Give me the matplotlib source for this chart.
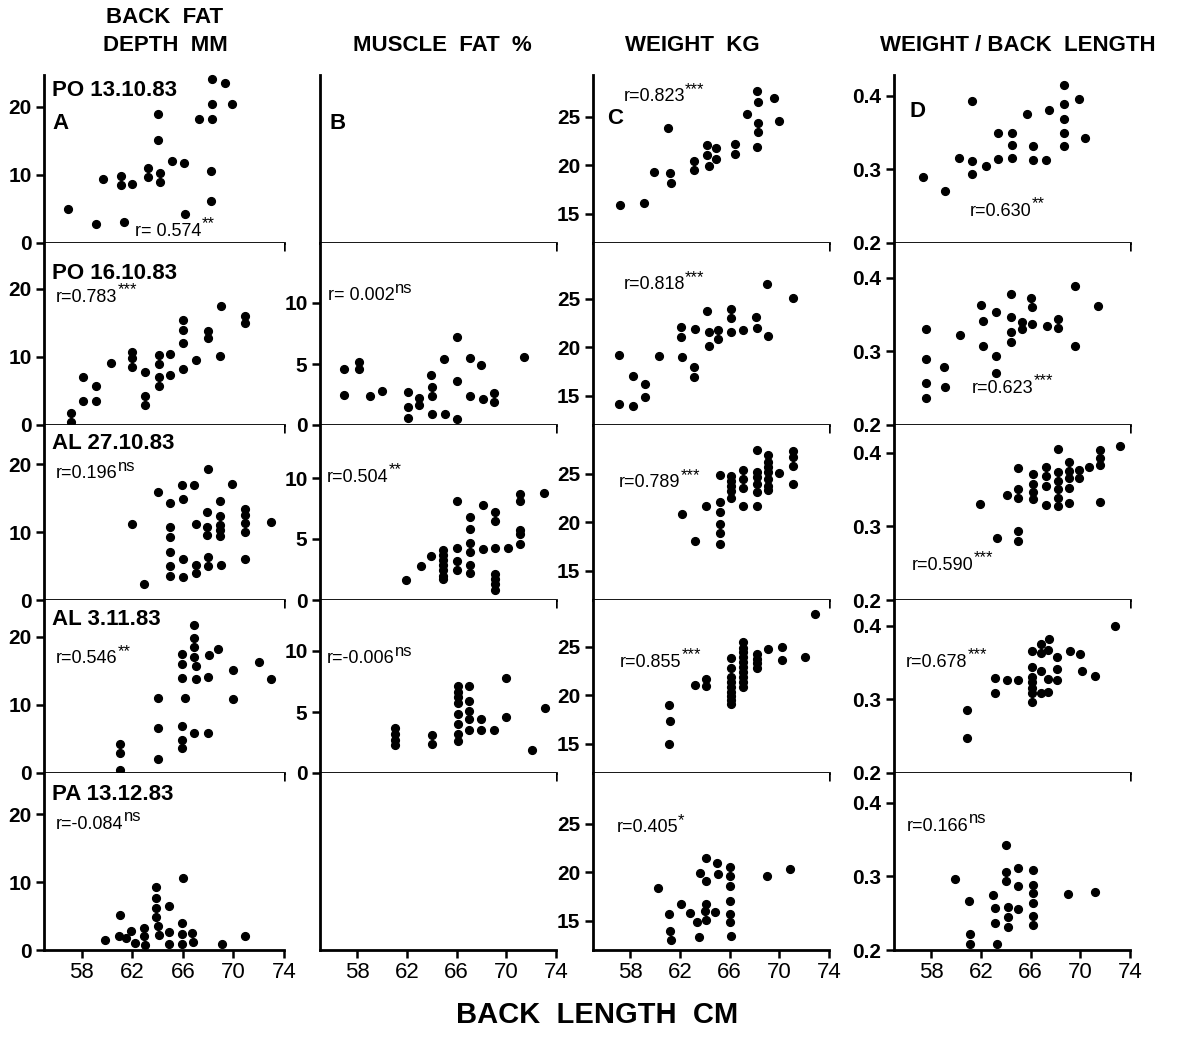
import matplotlib
matplotlib.use("Agg")
import matplotlib.pyplot as plt

plt.rcParams["font.family"] = ["Liberation Sans", "DejaVu Sans"]

# ---------------------------------------------------------------- data
# back length (cm) vs. four traits, five sampling dates (rows)
DATES = ["PO 13.10.83", "PO 16.10.83", "AL 27.10.83", "AL 3.11.83", "PA 13.12.83"]
HEADERS = ["BACK  FAT\nDEPTH  MM", "MUSCLE  FAT  %", "WEIGHT  KG", "WEIGHT / BACK  LENGTH"]
X_TICKS = [58, 62, 66, 70, 74]
Y_TICKS = [[0, 10, 20], [0, 5, 10], [15, 20, 25], [0.2, 0.3, 0.4]]
Y_TICKLABELS = [["0", "10", "20"], ["0", "5", "10"], ["15", "20", "25"], ["0.2", "0.3", "0.4"]]

# row 1 (PO 13.10.83)
A1_X = [56.9, 59.1, 59.7, 61.1, 61.1, 61.3, 62.0, 63.2, 63.2, 64.0, 64.0, 64.2, 64.2, 65.1,
        66.1, 66.2, 67.3, 68.3, 68.3, 68.3, 68.2, 68.2, 69.3, 69.9]
A1_Y = [5.0, 2.8, 9.4, 9.9, 8.5, 3.1, 8.7, 11.0, 9.7, 18.9, 15.1, 10.3, 8.9, 12.0,
        11.7, 4.3, 18.2, 24.1, 20.4, 18.3, 10.6, 6.2, 23.6, 20.4]
C1_X = [57.2, 59.1, 59.9, 61.0, 61.2, 61.3, 63.1, 63.1, 64.2, 64.2, 64.3, 64.9, 64.9, 66.4,
        66.4, 67.4, 68.2, 68.3, 68.3, 68.3, 68.2, 69.6, 70.0]
C1_Y = [15.9, 16.1, 19.3, 23.9, 19.2, 18.2, 20.5, 19.5, 22.1, 21.1, 19.9, 21.8, 20.7, 22.2,
        21.2, 25.3, 27.7, 26.5, 24.4, 23.4, 21.9, 26.9, 24.6]
D1_X = [57.3, 59.1, 60.2, 61.3, 61.3, 61.3, 62.4, 63.4, 63.4, 64.5, 64.5, 64.5, 65.7, 66.2,
        66.2, 67.2, 67.5, 68.7, 68.7, 68.7, 68.7, 68.7, 69.9, 70.4]
D1_Y = [0.290, 0.271, 0.316, 0.393, 0.311, 0.294, 0.305, 0.349, 0.314, 0.349, 0.333, 0.316,
        0.375, 0.332, 0.313, 0.313, 0.380, 0.414, 0.388, 0.368, 0.349, 0.331, 0.395, 0.342]

# row 2 (PO 16.10.83)
A2_X = [57.1, 57.1, 58.1, 58.1, 59.1, 59.1, 60.3, 62.0, 62.0, 62.0, 63.0, 63.0, 63.0, 64.1,
        64.1, 64.1, 64.1, 65.0, 65.0, 66.0, 66.0, 66.0, 66.0, 67.0, 68.0, 68.0, 68.9, 69.0,
        70.9, 70.9]
A2_Y = [1.7, 0.4, 7.0, 3.6, 5.8, 3.6, 9.1, 10.8, 9.9, 8.5, 7.8, 4.2, 2.9, 10.3,
        8.9, 7.1, 5.8, 10.4, 7.3, 15.4, 13.9, 12.0, 8.3, 9.6, 13.8, 12.8, 10.2, 17.5,
        15.0, 16.1]
B2_X = [56.9, 56.9, 58.1, 58.1, 59.0, 60.0, 62.1, 62.1, 62.1, 63.0, 63.0, 63.9, 64.0, 64.0,
        64.0, 65.0, 65.1, 66.0, 66.0, 66.0, 67.1, 67.1, 68.0, 68.1, 69.0, 69.0, 71.4]
B2_Y = [4.6, 2.5, 5.2, 4.6, 2.4, 2.8, 2.7, 1.5, 0.6, 2.2, 1.6, 4.1, 3.1, 2.4,
        0.9, 5.4, 0.9, 7.2, 3.6, 0.5, 5.5, 2.4, 4.9, 2.1, 2.6, 1.9, 5.6]
C2_X = [57.1, 57.1, 58.2, 58.2, 59.2, 59.2, 60.3, 62.1, 62.1, 62.2, 63.1, 63.1, 63.2, 64.2,
        64.3, 64.3, 65.1, 65.1, 66.1, 66.1, 66.1, 67.1, 68.1, 68.2, 69.0, 69.1, 71.1]
C2_Y = [19.2, 14.2, 17.1, 14.0, 16.2, 14.9, 19.1, 22.1, 21.1, 19.0, 18.0, 17.0, 21.9, 23.8,
        21.6, 20.1, 21.8, 20.9, 24.0, 23.0, 21.6, 21.8, 23.1, 22.0, 26.5, 21.2, 25.1]
D2_X = [57.6, 57.6, 57.6, 57.6, 59.0, 59.1, 60.3, 62.0, 62.2, 62.2, 63.2, 63.2, 63.2, 64.4,
        64.4, 64.4, 64.4, 65.3, 65.3, 66.0, 66.1, 66.1, 67.3, 68.2, 68.2, 69.6, 69.6, 71.4]
D2_Y = [0.330, 0.289, 0.257, 0.237, 0.279, 0.252, 0.322, 0.363, 0.341, 0.307, 0.353, 0.294,
        0.271, 0.378, 0.347, 0.326, 0.312, 0.340, 0.330, 0.372, 0.360, 0.337, 0.335, 0.344,
        0.331, 0.389, 0.307, 0.361]

# row 3 (AL 27.10.83)
A3_X = [62.0, 62.9, 64.0, 65.0, 65.0, 65.0, 65.0, 65.0, 65.0, 65.9, 66.0, 66.0, 66.0, 66.9,
        67.0, 67.0, 67.0, 68.0, 67.9, 67.9, 67.9, 68.0, 68.0, 68.9, 68.9, 68.9, 68.9, 68.9,
        69.0, 69.9, 70.9, 70.9, 70.9, 70.9, 70.9, 73.0]
A3_Y = [11.2, 2.3, 15.9, 14.3, 10.7, 9.3, 7.1, 5.0, 3.5, 16.9, 14.8, 6.0, 3.4, 16.9,
        11.2, 5.2, 4.0, 19.3, 12.9, 10.7, 9.5, 6.3, 5.0, 14.6, 12.3, 11.1, 10.3, 9.4,
        5.1, 17.0, 13.4, 12.5, 11.3, 10.0, 6.0, 11.5]
B3_X = [61.9, 63.1, 63.9, 64.9, 64.9, 64.9, 64.9, 64.9, 64.9, 64.9, 66.0, 66.0, 66.0, 66.0,
        67.1, 67.1, 67.1, 67.1, 67.1, 67.1, 68.1, 68.1, 69.1, 69.1, 69.1, 69.1, 69.1, 69.1,
        69.1, 70.1, 71.1, 71.1, 71.1, 71.1, 71.1, 73.0]
B3_Y = [1.6, 2.8, 3.6, 4.1, 3.7, 3.3, 2.9, 2.5, 2.0, 1.7, 8.1, 4.3, 3.2, 2.5,
        6.8, 5.8, 4.7, 3.9, 2.9, 2.2, 7.8, 4.2, 7.2, 6.5, 4.3, 2.1, 1.7, 1.3,
        0.8, 4.3, 8.7, 8.1, 5.7, 5.4, 4.6, 8.8]
C3_X = [62.2, 63.2, 64.1, 65.2, 65.2, 65.2, 65.2, 65.2, 65.2, 66.1, 66.1, 66.1, 66.1, 66.1,
        67.1, 67.1, 67.1, 67.1, 68.2, 68.2, 68.2, 68.2, 68.2, 68.2, 69.1, 69.1, 69.1, 69.1,
        69.1, 69.1, 69.1, 70.0, 71.1, 71.1, 71.1, 71.1]
C3_Y = [20.9, 18.1, 21.7, 24.9, 22.1, 21.1, 19.8, 18.9, 17.8, 24.8, 24.3, 23.8, 23.2, 22.5,
        25.4, 24.5, 23.5, 21.7, 27.5, 25.2, 24.7, 24.0, 23.1, 21.7, 26.9, 26.2, 25.7, 25.2,
        24.5, 23.8, 23.3, 25.1, 27.4, 26.7, 25.8, 24.0]
D3_X = [61.9, 63.3, 64.1, 65.0, 65.0, 65.0, 65.0, 65.0, 66.2, 66.2, 66.2, 66.2, 67.2, 67.2,
        67.2, 67.2, 68.2, 68.2, 68.2, 68.2, 68.2, 68.2, 69.1, 69.1, 69.1, 69.1, 69.1, 69.9,
        69.9, 70.7, 71.6, 71.6, 71.6, 71.6, 73.2]
D3_Y = [0.330, 0.284, 0.343, 0.379, 0.351, 0.339, 0.294, 0.280, 0.371, 0.358, 0.346, 0.337,
        0.381, 0.368, 0.355, 0.329, 0.405, 0.373, 0.361, 0.351, 0.338, 0.327, 0.387, 0.375,
        0.365, 0.352, 0.331, 0.376, 0.365, 0.381, 0.404, 0.393, 0.383, 0.333, 0.409]

# row 4 (AL 3.11.83)
A4_X = [61.0, 61.0, 61.0, 64.0, 64.0, 64.0, 65.9, 65.9, 65.9, 65.9, 65.9, 65.9, 66.2, 66.9,
        66.9, 66.9, 66.9, 67.0, 67.0, 66.9, 68.0, 68.0, 68.1, 68.8, 70.0, 70.0, 72.0, 73.0]
A4_Y = [4.2, 2.9, 0.4, 11.1, 6.6, 2.0, 17.5, 16.0, 13.9, 6.9, 4.8, 3.7, 11.1, 21.8,
        19.8, 18.5, 17.1, 15.8, 13.8, 5.9, 5.9, 14.1, 17.4, 18.2, 15.1, 10.9, 16.3, 13.8]
B4_X = [61.0, 61.0, 61.0, 61.0, 64.0, 64.0, 66.1, 66.1, 66.1, 66.1, 66.1, 66.1, 66.1, 66.1,
        67.0, 67.0, 67.0, 67.0, 67.0, 68.0, 68.0, 69.0, 70.0, 70.0, 72.1, 73.1]
B4_Y = [3.7, 3.2, 2.7, 2.3, 3.1, 2.4, 7.1, 6.6, 6.2, 5.7, 4.8, 4.0, 3.2, 2.6,
        7.1, 5.9, 5.1, 4.4, 3.5, 4.4, 3.5, 3.5, 7.8, 4.6, 1.9, 5.3]
C4_X = [61.1, 61.2, 61.1, 63.2, 64.1, 64.1, 66.1, 66.1, 66.1, 66.1, 66.1, 66.1, 66.1, 66.1,
        66.1, 67.1, 67.1, 67.1, 67.1, 67.1, 67.1, 67.1, 67.1, 67.1, 67.1, 68.2, 68.2, 68.2,
        68.2, 69.1, 70.2, 70.2, 72.1, 72.9]
C4_Y = [19.0, 17.4, 15.0, 21.1, 21.7, 21.0, 23.9, 22.8, 21.9, 21.4, 20.9, 20.4, 19.9, 19.5,
        19.1, 25.5, 24.9, 24.5, 24.0, 23.4, 22.9, 22.4, 21.9, 21.4, 20.9, 24.3, 23.8, 23.3,
        22.8, 24.8, 25.0, 23.7, 24.0, 28.4]
D4_X = [60.9, 60.9, 63.1, 63.1, 64.1, 65.0, 66.1, 66.1, 66.1, 66.1, 66.1, 66.1, 66.1, 66.8,
        66.8, 66.8, 66.8, 67.4, 67.4, 67.4, 67.5, 68.1, 68.1, 68.1, 69.2, 70.0, 70.1, 71.2,
        72.8]
D4_Y = [0.285, 0.247, 0.329, 0.309, 0.326, 0.326, 0.366, 0.344, 0.330, 0.323, 0.316, 0.309,
        0.297, 0.375, 0.363, 0.339, 0.309, 0.367, 0.327, 0.310, 0.382, 0.357, 0.341, 0.326,
        0.366, 0.361, 0.338, 0.332, 0.400]

# row 5 (PA 13.12.83)
A5_X = [59.8, 61.0, 60.9, 61.5, 61.9, 62.2, 62.9, 62.9, 63.0, 63.9, 63.9, 63.9, 63.9, 64.0,
        64.1, 64.9, 64.9, 64.9, 66.0, 65.9, 65.9, 65.9, 66.7, 66.8, 69.1, 70.9]
A5_Y = [1.5, 5.2, 2.0, 1.8, 2.8, 1.0, 3.3, 2.0, 0.7, 9.3, 7.6, 6.2, 4.9, 3.6,
        2.2, 6.5, 2.7, 0.9, 10.6, 3.9, 2.3, 0.9, 2.5, 1.2, 0.9, 2.0]
C5_X = [60.2, 61.1, 61.2, 61.3, 62.1, 62.8, 63.4, 63.5, 63.6, 64.1, 64.1, 64.1, 64.0, 64.1,
        64.8, 65.0, 65.1, 66.0, 66.0, 66.0, 66.0, 66.0, 66.0, 66.1, 69.0, 70.9]
C5_Y = [18.4, 15.7, 14.0, 13.0, 16.7, 15.8, 14.9, 13.3, 19.9, 19.1, 21.5, 16.7, 16.0, 15.1,
        15.9, 21.0, 19.8, 20.6, 19.6, 18.6, 17.1, 15.7, 14.9, 13.4, 19.6, 20.3]
D5_X = [59.9, 61.0, 61.1, 61.1, 63.0, 63.1, 63.1, 63.3, 64.0, 64.0, 64.0, 64.2, 64.2, 64.2,
        65.0, 65.0, 65.0, 66.2, 66.2, 66.2, 66.2, 66.2, 66.2, 69.0, 71.2]
D5_Y = [0.297, 0.266, 0.222, 0.208, 0.275, 0.257, 0.236, 0.208, 0.342, 0.306, 0.293, 0.259,
        0.245, 0.231, 0.311, 0.287, 0.256, 0.309, 0.288, 0.278, 0.264, 0.246, 0.234, 0.276,
        0.279]

# correlation coefficients and significance per panel (row, col)
R_VALUES = {
    (0, 0): ("r= 0.574", "**"), (0, 2): ("r=0.823", "***"), (0, 3): ("r=0.630", "**"),
    (1, 0): ("r=0.783", "***"), (1, 1): ("r= 0.002", "ns"), (1, 2): ("r=0.818", "***"),
    (1, 3): ("r=0.623", "***"),
    (2, 0): ("r=0.196", "ns"), (2, 1): ("r=0.504", "**"), (2, 2): ("r=0.789", "***"),
    (2, 3): ("r=0.590", "***"),
    (3, 0): ("r=0.546", "**"), (3, 1): ("r=-0.006", "ns"), (3, 2): ("r=0.855", "***"),
    (3, 3): ("r=0.678", "***"),
    (4, 0): ("r=-0.084", "ns"), (4, 2): ("r=0.405", "*"), (4, 3): ("r=0.166", "ns"),
}

PANELS = {
    (0, 0): (A1_X, A1_Y), (0, 2): (C1_X, C1_Y), (0, 3): (D1_X, D1_Y),
    (1, 0): (A2_X, A2_Y), (1, 1): (B2_X, B2_Y), (1, 2): (C2_X, C2_Y), (1, 3): (D2_X, D2_Y),
    (2, 0): (A3_X, A3_Y), (2, 1): (B3_X, B3_Y), (2, 2): (C3_X, C3_Y), (2, 3): (D3_X, D3_Y),
    (3, 0): (A4_X, A4_Y), (3, 1): (B4_X, B4_Y), (3, 2): (C4_X, C4_Y), (3, 3): (D4_X, D4_Y),
    (4, 0): (A5_X, A5_Y), (4, 2): (C5_X, C5_Y), (4, 3): (D5_X, D5_Y),
}

# ---------------------------------------------------------------- layout
W, H = 1189, 1042
COLS = [(44, 284), (320, 556), (593, 829), (894, 1130)]        # px, left/right
ROWS = [(75, 243), (243, 425), (425, 600), (600, 773), (773, 950)]  # px, top/bottom
Y_MIN = [0, 0, 12, 0.2]
PX_PER_UNIT = [6.8, 12.2, 9.7, 737.0]   # keeps the same y-scale down each column

# annotation positions in axes fraction
R_POS = {
    (0, 0): (0.38, 0.07), (0, 2): (0.13, 0.87), (0, 3): (0.32, 0.19),
    (1, 0): (0.05, 0.70), (1, 1): (0.035, 0.71), (1, 2): (0.13, 0.77), (1, 3): (0.33, 0.20),
    (2, 0): (0.05, 0.72), (2, 1): (0.03, 0.70), (2, 2): (0.11, 0.67), (2, 3): (0.075, 0.20),
    (3, 0): (0.05, 0.66), (3, 1): (0.03, 0.66), (3, 2): (0.115, 0.64), (3, 3): (0.05, 0.64),
    (4, 0): (0.05, 0.71), (4, 2): (0.10, 0.69), (4, 3): (0.055, 0.70),
}
DATE_POS = [0.905, 0.83, 0.895, 0.89, 0.88]
LETTER_POS = [(0.035, 0.71), (0.04, 0.71), (0.06, 0.74), (0.065, 0.78)]

fig = plt.figure(figsize=(W / 100, H / 100), dpi=100)

for r, (top, bot) in enumerate(ROWS):
    for c, (left, right) in enumerate(COLS):
        ax = fig.add_axes([left / W, 1 - bot / H, (right - left) / W, (bot - top) / H])
        ymin = Y_MIN[c]
        ax.set_xlim(55, 74)
        ax.set_ylim(ymin, ymin + (bot - top) / PX_PER_UNIT[c])

        for side in ("top", "right"):
            ax.spines[side].set_visible(False)
        for side in ("left", "bottom"):
            ax.spines[side].set_linewidth(2.0)

        ax.set_xticks(X_TICKS)
        ax.tick_params(direction="out", length=6, width=1.8, colors="black", pad=3)
        if r == len(ROWS) - 1:
            ax.set_xticklabels([str(t) for t in X_TICKS], fontsize=16)
        else:
            ax.set_xticklabels([])

        if (r, c) in PANELS:
            ax.set_yticks(Y_TICKS[c])
            ax.set_yticklabels(Y_TICKLABELS[c], fontweight="bold", fontsize=15)
            xs, ys = PANELS[(r, c)]
            ax.plot(xs, ys, "o", color="black", markersize=5.6, clip_on=False)
        else:
            ax.set_yticks([])

        if c == 0:
            ax.text(0.035, DATE_POS[r], DATES[r], transform=ax.transAxes,
                    fontsize=16, fontweight="bold", va="center", ha="left")
        if r == 0:
            lx, ly = LETTER_POS[c]
            ax.text(lx, ly, "ABCD"[c], transform=ax.transAxes, fontsize=16,
                    fontweight="bold", va="center", ha="left")

        if (r, c) in R_VALUES:
            txt, sig = R_VALUES[(r, c)]
            px, py = R_POS[(r, c)]
            t = ax.text(px, py, txt, transform=ax.transAxes, fontsize=13,
                        va="center", ha="left")
            ax.annotate(sig, xy=(1.0, 0.5), xycoords=t, fontsize=12,
                        va="bottom", ha="left")

# column headers
HEADER_X = [165, 442, 692, 1018]
for i, head in enumerate(HEADERS):
    fig.text(HEADER_X[i] / W, 1 - 56 / H, head, fontweight="bold",
             fontsize=16, ha="center", va="bottom", linespacing=1.45)

fig.text(597 / W, 1 - 1015 / H, "BACK  LENGTH  CM", fontweight="bold",
         fontsize=21, ha="center", va="center")

fig.savefig("out.png", dpi=100)
